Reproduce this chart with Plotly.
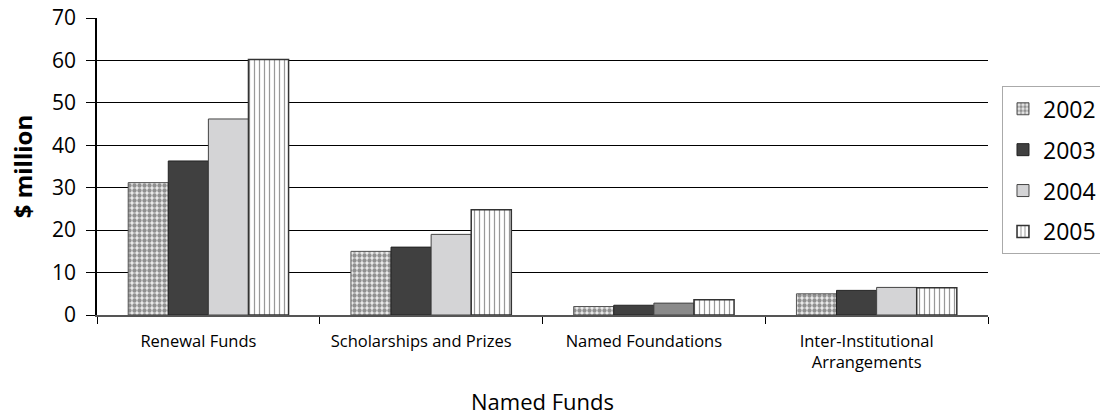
import plotly.graph_objects as go

categories = ["Renewal Funds", "Scholarships and Prizes", "Named Foundations",
              "Inter-Institutional<br>Arrangements"]
years = ["2002", "2003", "2004", "2005"]
v2002 = [31.2, 15.0, 2.0, 5.0]
v2003 = [36.3, 16.0, 2.3, 5.8]
v2004 = [46.2, 19.0, 2.8, 6.5]
v2005 = [60.2, 24.8, 3.6, 6.4]
y_ticks = [0, 10, 20, 30, 40, 50, 60, 70]

FONT = "Open Sans"

fig = go.Figure()
fig.add_trace(go.Bar(
    name="2002", x=categories, y=v2002, legendgroup="a",
    marker=dict(color="#bdbdbd", line=dict(color="#555555", width=1),
                pattern=dict(shape=".", fgcolor="#333333", bgcolor="#ececec",
                             size=5, solidity=0.6)),
))
fig.add_trace(go.Bar(
    name="2003", x=categories, y=v2003, legendgroup="b",
    marker=dict(color="#404040", line=dict(color="#222222", width=1)),
))
fig.add_trace(go.Bar(
    name="2004", x=categories, y=v2004, legendgroup="c",
    marker=dict(color=["#d4d4d6", "#d4d4d6", "#8a8a8a", "#d4d4d6"],
                line=dict(color="#444444", width=1)),
))
fig.add_trace(go.Bar(
    name="2005", x=categories, y=v2005, legendgroup="d",
    marker=dict(color="white", line=dict(color="#333333", width=1.5),
                pattern=dict(shape="|", fgcolor="#333333", bgcolor="white",
                             size=5, solidity=0.25)),
))

fig.update_layout(
    width=1108, height=419,
    margin=dict(l=89, r=128, t=10, b=112, autoexpand=False),
    paper_bgcolor="white", plot_bgcolor="white",
    barmode="group", bargap=0.28, bargroupgap=0,
    font=dict(family=FONT, color="black"),
    showlegend=True,
    legend=dict(x=1.0157, y=0.770, xanchor="left", yanchor="top",
                bordercolor="#aaaaaa", borderwidth=1,
                font=dict(size=23, family=FONT),
                itemwidth=30, tracegroupgap=8),
    xaxis=dict(
        automargin=False,
        showline=True, linecolor="#555555", linewidth=2,
        ticks="outside", ticklen=7, tickcolor="black", tickson="boundaries",
        tickfont=dict(size=16.5, family=FONT), ticklabelstandoff=10,
        ticklabelshift=-10,
        title=dict(text="Named Funds", font=dict(size=22, family=FONT), standoff=22),
        showgrid=False,
    ),
    yaxis=dict(
        automargin=False,
        range=[0, 70], tickvals=y_ticks, ticklabeloverflow="allow",
        showline=True, linecolor="black", linewidth=1.5,
        ticks="outside", ticklen=9, tickcolor="black",
        tickfont=dict(size=21, family=FONT), ticklabelstandoff=6,
        showgrid=True, gridcolor="black", gridwidth=1,
        zeroline=False,
    ),
    annotations=[dict(
        text="<b>$ million</b>", textangle=-90, showarrow=False,
        xref="paper", yref="paper", x=-0.084, y=0.498,
        xanchor="center", yanchor="middle",
        font=dict(size=24, family=FONT, color="black"),
    )],
)

fig.write_html("out.html")
